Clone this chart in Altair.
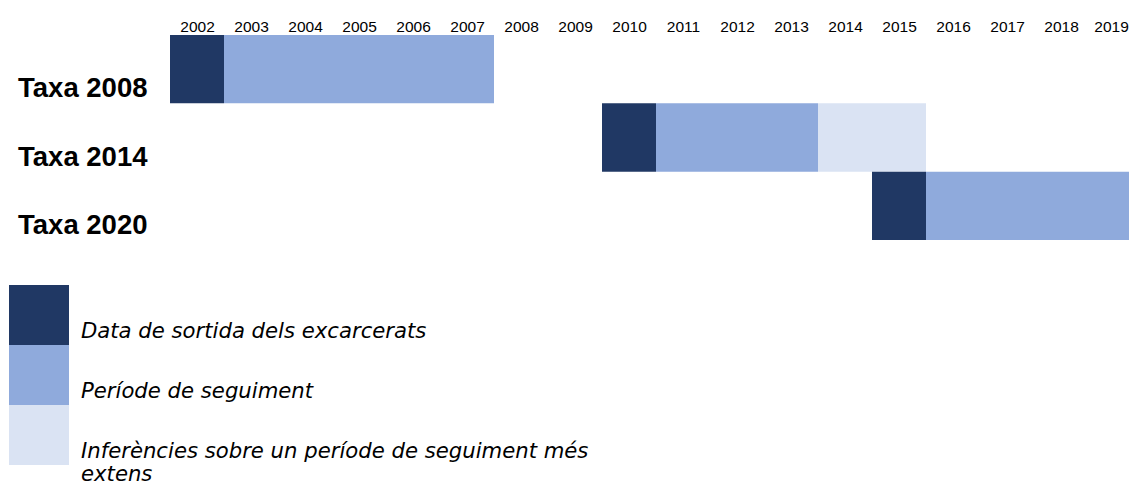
import altair as alt
import pandas as pd

# ---- data ----
rows = ["Taxa 2008", "Taxa 2014", "Taxa 2020"]
types = [
    "Data de sortida dels excarcerats",
    "Període de seguiment",
    "Inferències sobre un període de seguiment més extens",
]
colors = ["#203864", "#8FAADC", "#DAE3F3"]

seg_row = ["Taxa 2008", "Taxa 2008", "Taxa 2014", "Taxa 2014", "Taxa 2014", "Taxa 2020", "Taxa 2020"]
seg_start = [2002, 2003, 2010, 2011, 2014, 2015, 2016]
seg_end = [2003, 2008, 2011, 2014, 2016, 2016, 2020]
seg_type = [types[0], types[1], types[0], types[1], types[2], types[0], types[1]]

years = list(range(2002, 2020))

df = pd.DataFrame({"row": seg_row, "start": seg_start, "end": seg_end, "type": seg_type})

# legend labels: an empty first line pushes the text towards the bottom of each swatch
label_expr = (
    "datum.label == 'Inferències sobre un període de seguiment més extens' "
    "? ['', 'Inferències sobre un període de seguiment més', 'extens'] : ['', datum.label]"
)

chart = (
    alt.Chart(df)
    .mark_rect()
    .encode(
        x=alt.X(
            "start:Q",
            scale=alt.Scale(domain=[2002, 2020], range=[162, 1134], nice=False, zero=False),
            axis=alt.Axis(
                orient="top",
                values=[y + 0.5 for y in years],
                labelExpr="floor(datum.value)",
                domain=False,
                ticks=False,
                tickSize=0,
                grid=False,
                labelPadding=1,
                labelFlush=False,
                labelOverlap=False,
                labelAngle=0,
                labelOffset={"condition": {"test": "datum.value > 2019", "value": -4}, "value": 0},
                labelFont="Liberation Sans",
                labelFontSize=15.5,
                labelColor="#000000",
                title=None,
            ),
        ),
        x2="end:Q",
        y=alt.Y(
            "row:N",
            scale=alt.Scale(domain=rows, range=[0, 205], paddingInner=0, paddingOuter=0),
            axis=alt.Axis(
                orient="left",
                offset=-139,
                domain=False,
                ticks=False,
                tickSize=0,
                grid=False,
                labelPadding=0,
                labelOffset=20,
                labelFont="Liberation Sans",
                labelFontWeight="bold",
                labelFontSize=27.5,
                labelColor="#000000",
                labelBaseline="middle",
                title=None,
            ),
        ),
        color=alt.Color(
            "type:N",
            scale=alt.Scale(domain=types, range=colors),
            legend=alt.Legend(
                orient="none",
                legendX=1,
                legendY=250,
                padding=0,
                title=None,
                symbolType="square",
                symbolSize=3600,
                symbolStrokeWidth=0,
                symbolOpacity=1,
                rowPadding=0,
                labelOffset=12,
                labelFont="DejaVu Sans",
                labelFontStyle="italic",
                labelFontSize=21.2,
                labelBaseline="alphabetic",
                labelLimit=800,
                labelColor="#000000",
                labelExpr=label_expr,
            ),
        ),
    )
    .properties(
        width=1121,
        height=451,
        padding={"left": 0, "top": 27, "right": 0, "bottom": 0},
        autosize=alt.AutoSizeParams(type="none"),
    )
    .configure_view(stroke=None)
)

chart.save("out.html", embed_options={"renderer": "svg", "actions": False})
